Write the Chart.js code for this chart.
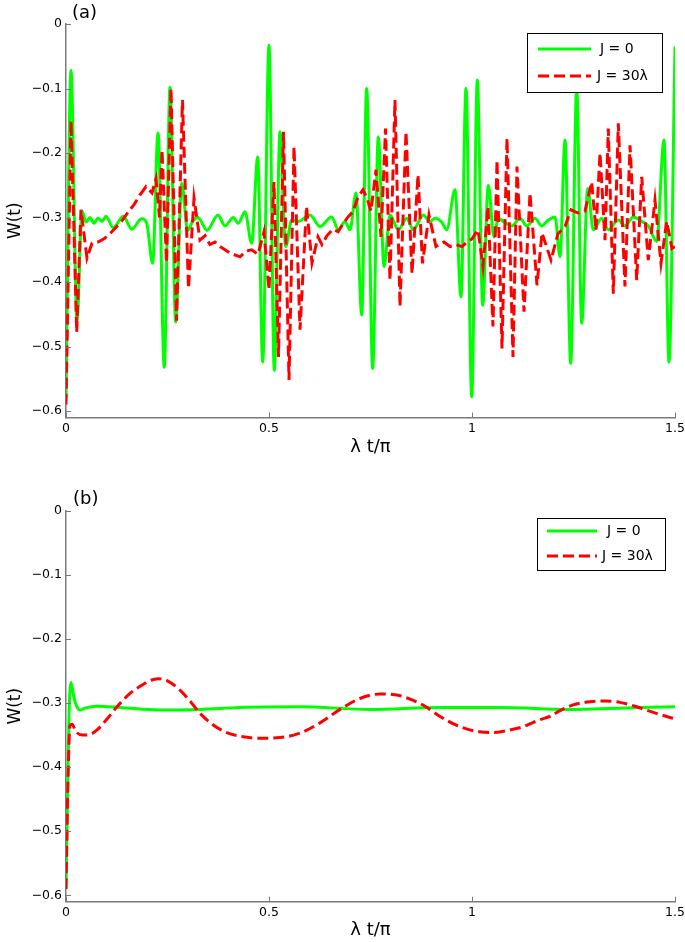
<!DOCTYPE html>
<html>
<head>
<meta charset="utf-8">
<script src="https://cdn.jsdelivr.net/npm/chart.js@4.4.0/dist/chart.umd.min.js"></script>
<style>
  html, body { margin: 0; padding: 0; background: #fff; }
  #wrap { position: relative; width: 685px; height: 942px; }
  canvas { position: absolute; left: 0; }
  #chartA { top: 0; }
  #chartB { top: 470px; }
</style>
</head>
<body>
<div id="wrap">
  <canvas id="chartA" width="685" height="460"></canvas>
  <canvas id="chartB" width="685" height="472"></canvas>
</div>
<script>
// x axis: λt/π, y axis: W(t)
const xTicks = [0, 0.5, 1, 1.5];
const yTicks = [0, -0.1, -0.2, -0.3, -0.4, -0.5, -0.6];
const seriesNames = ['J = 0', 'J = 30λ'];

// --- panel (a), J = 0 ---
const tA0 = [0, 0.0123, 0.0271, 0.0394, 0.0493, 0.0591, 0.0690, 0.0788, 0.0887, 0.0985,
  0.1165, 0.1411, 0.1618, 0.1865, 0.1988, 0.2135, 0.2266, 0.2421, 0.2562, 0.2702,
  0.2850, 0.2998, 0.3128, 0.3251, 0.3473, 0.3744, 0.3916, 0.4121, 0.4244, 0.4409,
  0.4574, 0.4722, 0.4845, 0.5000, 0.5131, 0.5271, 0.5411, 0.5559, 0.5722, 0.6010,
  0.6256, 0.6544, 0.6707, 0.6872, 0.6995, 0.7143, 0.7283, 0.7406, 0.7554, 0.7692,
  0.7833, 0.7980, 0.8185, 0.8392, 0.8554, 0.8800, 0.8966, 0.9089, 0.9254, 0.9377,
  0.9581, 0.9729, 0.9852, 0.9993, 1.0131, 1.0264, 1.0401, 1.0542, 1.0648, 1.0771,
  1.0978, 1.1182, 1.1347, 1.1552, 1.1716, 1.1879, 1.2044, 1.2167, 1.2291, 1.2431,
  1.2579, 1.2702, 1.2850, 1.2988, 1.3195, 1.3357, 1.3603, 1.3768, 1.3973, 1.4180,
  1.4342, 1.4549, 1.4729, 1.4852, 1.5];
const wA0 = [-0.58, -0.072, -0.46, -0.29, -0.307, -0.300, -0.309, -0.301, -0.306, -0.298,
  -0.316, -0.298, -0.318, -0.302, -0.309, -0.371, -0.169, -0.532, -0.098, -0.462,
  -0.247, -0.320, -0.305, -0.300, -0.320, -0.296, -0.313, -0.300, -0.309, -0.291,
  -0.340, -0.206, -0.524, -0.033, -0.537, -0.167, -0.345, -0.304, -0.306, -0.296,
  -0.314, -0.299, -0.319, -0.306, -0.319, -0.262, -0.451, -0.100, -0.534, -0.175,
  -0.376, -0.296, -0.319, -0.301, -0.319, -0.296, -0.306, -0.301, -0.307, -0.319,
  -0.257, -0.423, -0.100, -0.578, -0.087, -0.436, -0.250, -0.330, -0.301, -0.306,
  -0.313, -0.301, -0.313, -0.301, -0.313, -0.304, -0.299, -0.361, -0.180, -0.526,
  -0.100, -0.464, -0.255, -0.319, -0.301, -0.319, -0.304, -0.313, -0.299, -0.306,
  -0.313, -0.337, -0.180, -0.524, -0.035];

// --- panel (a), J = 30λ ---
const tA30 = [0, 0.0123, 0.0264, 0.0369, 0.0517, 0.0640, 0.0788, 0.0936, 0.1084, 0.1232,
  0.1379, 0.1527, 0.1675, 0.1823, 0.1970, 0.2118, 0.2217, 0.2303, 0.2365, 0.2475,
  0.2586, 0.2722, 0.2869, 0.3017, 0.3153, 0.3300, 0.3424, 0.3547, 0.3670, 0.3793,
  0.4039, 0.4286, 0.4433, 0.4574, 0.4729, 0.4877, 0.5000, 0.5123, 0.5234, 0.5357,
  0.5493, 0.5616, 0.5764, 0.5924, 0.6059, 0.6207, 0.6305, 0.6429, 0.6576, 0.6700,
  0.6823, 0.6946, 0.7069, 0.7192, 0.7315, 0.7414, 0.7512, 0.7635, 0.7759, 0.7870,
  0.7980, 0.8103, 0.8227, 0.8374, 0.8522, 0.8670, 0.8781, 0.8941, 0.9113, 0.9310,
  0.9458, 0.9606, 0.9754, 0.9877, 1.0000, 1.0148, 1.0271, 1.0394, 1.0517, 1.0616,
  1.0739, 1.0862, 1.1010, 1.1108, 1.1281, 1.1429, 1.1601, 1.1724, 1.1946, 1.2118,
  1.2291, 1.2438, 1.2611, 1.2783, 1.2948, 1.3054, 1.3153, 1.3276, 1.3357, 1.3481,
  1.3604, 1.3768, 1.3892, 1.4057, 1.4180, 1.4342, 1.4507, 1.4655, 1.4796, 1.4926,
  1.5];
const wA30 = [-0.59, -0.150, -0.478, -0.288, -0.363, -0.340, -0.338, -0.333, -0.325, -0.315,
  -0.305, -0.292, -0.280, -0.265, -0.252, -0.262, -0.240, -0.300, -0.195, -0.370,
  -0.100, -0.460, -0.118, -0.410, -0.270, -0.335, -0.328, -0.342, -0.338, -0.345,
  -0.355, -0.361, -0.352, -0.350, -0.357, -0.322, -0.412, -0.245, -0.516, -0.167,
  -0.552, -0.190, -0.474, -0.283, -0.370, -0.330, -0.342, -0.328, -0.318, -0.322,
  -0.310, -0.299, -0.291, -0.268, -0.257, -0.270, -0.290, -0.226, -0.330, -0.162,
  -0.397, -0.118, -0.438, -0.167, -0.387, -0.234, -0.371, -0.296, -0.345, -0.338,
  -0.345, -0.342, -0.345, -0.338, -0.333, -0.319, -0.376, -0.283, -0.469, -0.211,
  -0.503, -0.177, -0.516, -0.221, -0.446, -0.262, -0.405, -0.324, -0.366, -0.325,
  -0.314, -0.288, -0.293, -0.290, -0.245, -0.320, -0.200, -0.335, -0.162, -0.418,
  -0.154, -0.407, -0.188, -0.397, -0.237, -0.366, -0.273, -0.371, -0.306, -0.348,
  -0.345];

// --- panel (b), J = 0 ---
const tB0 = [0, 0.0037, 0.0074, 0.0123, 0.0197, 0.0296, 0.0345, 0.0468, 0.0756, 0.1330,
  0.2315, 0.3300, 0.4286, 0.5764, 0.7488, 0.9212, 1.0690, 1.2414, 1.3153, 1.4138, 1.5];
const wB0 = [-0.59, -0.45, -0.32, -0.268, -0.292, -0.309, -0.311, -0.308, -0.305, -0.307,
  -0.311, -0.310, -0.307, -0.306, -0.310, -0.307, -0.307, -0.310, -0.309, -0.307, -0.306];

// --- panel (b), J = 30λ ---
const tB30 = [0, 0.0049, 0.0099, 0.0148, 0.0246, 0.0419, 0.0591, 0.0764, 0.1010, 0.1256,
  0.1576, 0.1823, 0.2069, 0.2266, 0.2488, 0.2808, 0.3054, 0.3300, 0.3596, 0.3916,
  0.4286, 0.4778, 0.5271, 0.5764, 0.6256, 0.6749, 0.7241, 0.7734, 0.8103, 0.8473,
  0.8842, 0.9212, 0.9704, 1.0197, 1.0567, 1.0936, 1.1256, 1.1675, 1.1921, 1.2167,
  1.2488, 1.2906, 1.3276, 1.3645, 1.4015, 1.4335, 1.4631, 1.5];
const wB30 = [-0.59, -0.42, -0.335, -0.333, -0.345, -0.350, -0.349, -0.342, -0.325, -0.306,
  -0.285, -0.274, -0.265, -0.262, -0.265, -0.280, -0.297, -0.316, -0.333, -0.345,
  -0.352, -0.355, -0.354, -0.347, -0.331, -0.310, -0.293, -0.286, -0.287, -0.294,
  -0.305, -0.321, -0.337, -0.345, -0.346, -0.342, -0.337, -0.326, -0.321, -0.312,
  -0.303, -0.298, -0.297, -0.299, -0.305, -0.312, -0.318, -0.325];

const GREEN = '#00ff00';
const RED = '#ff0000';
const AXIS = '#7a7a7a';
const FONT = '"DejaVu Sans", sans-serif';

function toPoints(xs, ys) {
  return xs.map((x, i) => ({ x: x, y: ys[i] }));
}

// panel label, inward ticks and the boxed legend
const extras = {
  id: 'extras',
  afterDraw(chart, args, opts) {
    const ctx = chart.ctx;
    const a = chart.chartArea;
    const sx = chart.scales.x, sy = chart.scales.y;
    ctx.save();

    ctx.strokeStyle = AXIS;
    ctx.lineWidth = 1;
    ctx.beginPath();
    sx.ticks.forEach(tk => {
      const px = Math.round(sx.getPixelForValue(tk.value)) + 0.5;
      ctx.moveTo(px, a.bottom); ctx.lineTo(px, a.bottom - 5);
    });
    sy.ticks.forEach(tk => {
      const py = Math.round(sy.getPixelForValue(tk.value)) + 0.5;
      ctx.moveTo(a.left, py); ctx.lineTo(a.left + 5, py);
    });
    ctx.stroke();

    ctx.fillStyle = '#000';
    ctx.font = '18px ' + FONT;
    ctx.textBaseline = 'middle';
    ctx.textAlign = 'left';
    ctx.fillText(opts.label, opts.labelX, opts.labelY);

    const L = opts.legend;
    ctx.fillStyle = '#fff';
    ctx.fillRect(L.x, L.y, L.w, L.h);
    ctx.strokeStyle = '#000';
    ctx.lineWidth = 1;
    ctx.strokeRect(L.x + 0.5, L.y + 0.5, L.w, L.h);

    ctx.font = '14px ' + FONT;
    const rows = [
      { color: GREEN, dash: [], text: seriesNames[0], y: L.row1, tx: L.text1 },
      { color: RED, dash: [11, 5], text: seriesNames[1], y: L.row2, tx: L.text2 }
    ];
    rows.forEach(r => {
      ctx.strokeStyle = r.color;
      ctx.lineWidth = 3;
      ctx.setLineDash(r.dash);
      ctx.beginPath();
      ctx.moveTo(L.x + L.lineX0, L.y + r.y);
      ctx.lineTo(L.x + L.lineX1, L.y + r.y);
      ctx.stroke();
      ctx.setLineDash([]);
      ctx.fillStyle = '#000';
      ctx.fillText(r.text, L.x + r.tx, L.y + r.y);
    });
    ctx.restore();
  }
};

function makeChart(id, t0, w0, t30, w30, layout) {
  const canvas = document.getElementById(id);
  return new Chart(canvas, {
    type: 'line',
    data: {
      datasets: [
        {
          label: seriesNames[0],
          data: toPoints(t0, w0),
          borderColor: GREEN,
          borderWidth: 3,
          pointRadius: 0,
          cubicInterpolationMode: 'monotone',
          fill: false,
          order: 1
        },
        {
          label: seriesNames[1],
          data: toPoints(t30, w30),
          borderColor: RED,
          borderWidth: 3,
          borderDash: [11, 5],
          pointRadius: 0,
          cubicInterpolationMode: layout.redSmooth ? 'monotone' : 'default',
          tension: 0,
          fill: false,
          order: 0
        }
      ]
    },
    options: {
      responsive: false,
      animation: false,
      devicePixelRatio: 1,
      layout: {
        autoPadding: false,
        padding: { top: layout.top, right: 10, left: 0, bottom: 0 }
      },
      scales: {
        x: {
          type: 'linear',
          min: 0,
          max: 1.5,
          grid: { display: false, drawTicks: false },
          border: { display: true, color: AXIS, width: 1.5 },
          afterBuildTicks: s => { s.ticks = xTicks.map(v => ({ value: v })); },
          afterFit: s => { s.height = layout.xHeight; s.paddingLeft = 0; s.paddingRight = 0; },
          ticks: {
            color: '#000',
            padding: 4,
            maxRotation: 0,
            font: { family: FONT, size: 12.5 },
            callback: v => String(v)
          },
          title: {
            display: true,
            text: 'λ t/π',
            color: '#000',
            font: { family: FONT, size: 18 },
            padding: { top: 0, bottom: layout.xTitlePad }
          }
        },
        y: {
          type: 'linear',
          min: -0.61,
          max: 0,
          grid: { display: false, drawTicks: false },
          border: { display: true, color: AXIS, width: 1.5 },
          afterBuildTicks: s => { s.ticks = yTicks.map(v => ({ value: v })); },
          afterFit: s => { s.width = 66; s.paddingTop = 0; s.paddingBottom = 0; },
          ticks: {
            color: '#000',
            padding: 4,
            font: { family: FONT, size: 12.5 },
            callback: v => (v === 0 ? '0' : '\u2212' + Math.abs(v).toFixed(1))
          },
          title: {
            display: true,
            text: 'W(t)',
            color: '#000',
            font: { family: FONT, size: 17 },
            padding: { top: 5, bottom: 0 }
          }
        }
      },
      plugins: {
        legend: { display: false },
        tooltip: { enabled: false },
        extras: layout.extras
      }
    },
    plugins: [extras]
  });
}

makeChart('chartA', tA0, wA0, tA30, wA30, {
  top: 24,
  xHeight: 42.5,
  xTitlePad: 2,
  redSmooth: false,
  extras: {
    label: '(a)', labelX: 72, labelY: 13,
    legend: { x: 527, y: 33, w: 135, h: 59, row1: 16, row2: 43,
              lineX0: 11, lineX1: 64, text1: 73, text2: 70 }
  }
});

makeChart('chartB', tB0, wB0, tB30, wB30, {
  top: 40.7,
  xHeight: 40.3,
  xTitlePad: 1,
  redSmooth: true,
  extras: {
    label: '(b)', labelX: 73, labelY: 29,
    legend: { x: 537, y: 48, w: 128, h: 52, row1: 13, row2: 38,
              lineX0: 10, lineX1: 60, text1: 70, text2: 65 }
  }
});
</script>
</body>
</html>
